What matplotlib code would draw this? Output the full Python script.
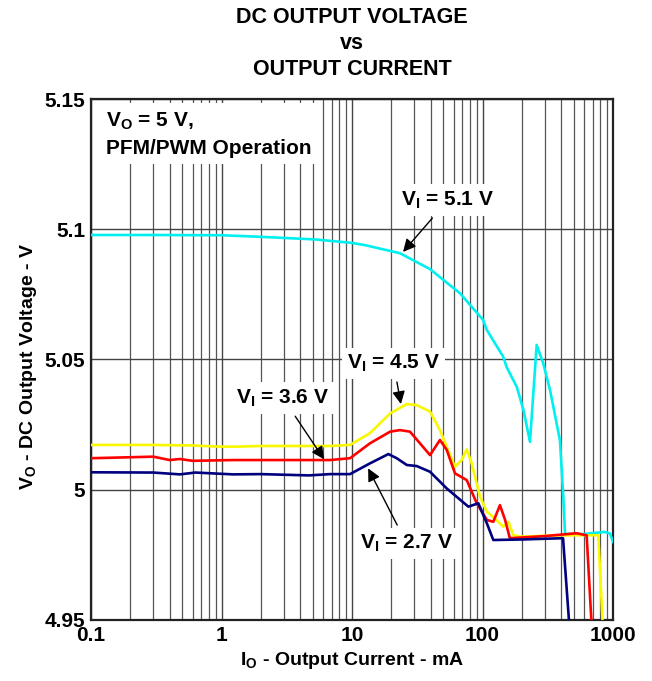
import matplotlib
matplotlib.use("Agg")
import matplotlib.pyplot as plt
from matplotlib.ticker import FixedLocator, NullFormatter

plt.rcParams['font.family'] = ['Liberation Sans', 'DejaVu Sans']
plt.rcParams['font.weight'] = 'bold'
plt.rcParams['axes.labelweight'] = 'bold'
plt.rcParams['mathtext.fontset'] = 'custom'
plt.rcParams['mathtext.rm'] = 'Liberation Sans:bold'
plt.rcParams['mathtext.it'] = 'Liberation Sans:bold'
plt.rcParams['mathtext.bf'] = 'Liberation Sans:bold'
plt.rcParams['mathtext.default'] = 'rm'

# output current (mA) / output voltage (V)
x_51 = [0.1, 0.3, 1.0, 2.0, 5.2, 9.8, 12.6, 23.3, 39.6, 67.3, 101, 108, 144, 153,
        183, 206, 231, 260, 292, 329, 392, 416, 429, 600, 860, 948, 1000]
v_51 = [5.0978, 5.0978, 5.0977, 5.0971, 5.0961, 5.0948, 5.0939, 5.0908, 5.0847,
        5.0754, 5.0652, 5.0613, 5.0511, 5.0471, 5.0395, 5.0306, 5.0184, 5.0556,
        5.0485, 5.0383, 5.0190, 4.9973, 4.9830, 4.9830, 4.9838, 4.9832, 4.9800]

x_45 = [0.1, 0.3, 0.6, 0.9, 1.2, 2.0, 4.7, 6.78, 9.66, 13.7, 19.6, 26.3, 31.3,
        39.6, 47.2, 53.2, 61.5, 69.3, 75.7, 82.6, 95.7, 108, 128, 144, 158, 172,
        194, 400, 771, 850]
v_45 = [5.0172, 5.0172, 5.0170, 5.0166, 5.0165, 5.0168, 5.0168, 5.0168, 5.0172,
        5.0217, 5.0293, 5.0329, 5.0325, 5.0300, 5.0229, 5.0165, 5.0088, 5.0114,
        5.0155, 5.0101, 4.9973, 4.9916, 4.9884, 4.9858, 4.9877, 4.9826, 4.9820,
        4.9825, 4.9825, 4.9400]

x_36 = [0.1, 0.3, 0.4, 0.48, 0.6, 1.22, 1.97, 4.7, 6.78, 9.66, 13.7, 19.6, 23.3,
        27.8, 33.2, 39.6, 47.2, 53.2, 61.5, 75.7, 90.3, 108, 121, 136, 149, 162,
        300, 525, 628, 700]
v_36 = [5.0121, 5.0127, 5.0114, 5.0118, 5.0111, 5.0114, 5.0114, 5.0114, 5.0114,
        5.0121, 5.0178, 5.0223, 5.0229, 5.0223, 5.0178, 5.0133, 5.0191, 5.0153,
        5.0063, 5.0037, 4.9948, 4.9884, 4.9877, 4.9941, 4.9884, 4.9814, 4.9822,
        4.9833, 4.9825, 4.9400]

x_27 = [0.1, 0.3, 0.48, 0.63, 1.22, 2.0, 4.7, 6.78, 9.66, 13.7, 19.0, 22.0, 26.3,
        31.3, 39.6, 53.2, 77.9, 92.9, 108, 121, 200, 414, 475]
v_27 = [5.0067, 5.0066, 5.0059, 5.0066, 5.0059, 5.0060, 5.0055, 5.0060, 5.0060,
        5.0101, 5.0137, 5.0121, 5.0095, 5.0091, 5.0069, 5.0005, 4.9935, 4.9948,
        4.9871, 4.9807, 4.9809, 4.9814, 4.9400]

x_ticks = [0.1, 1, 10, 100, 1000]
x_labels = ['0.1', '1', '10', '100', '1000']
y_ticks = [4.95, 5.0, 5.05, 5.1, 5.15]
y_labels = ['4.95', '5', '5.05', '5.1', '5.15']

fig = plt.figure(figsize=(6.52, 6.81), dpi=100)
ax = fig.add_axes([0.1396, 0.0896, 0.8006, 0.765])

ax.plot(x_51, v_51, color='#00F0F0', lw=1.9, zorder=3)
ax.plot(x_45, v_45, color='#F8F800', lw=1.9, zorder=3)
ax.plot(x_36, v_36, color='#FF0000', lw=1.9, zorder=3)
ax.plot(x_27, v_27, color='#00007F', lw=1.9, zorder=3)

ax.set_xscale('log')
ax.set_xlim(0.1, 1000)
ax.set_ylim(4.95, 5.15)
ax.xaxis.set_major_locator(FixedLocator(x_ticks))
ax.set_xticklabels(x_labels)
minors = [m * 10.0 ** e for e in range(-1, 3) for m in range(2, 10)]
ax.xaxis.set_minor_locator(FixedLocator(minors))
ax.xaxis.set_minor_formatter(NullFormatter())
ax.set_yticks(y_ticks)
ax.set_yticklabels(y_labels)
ax.tick_params(which='both', length=0, labelsize=15, pad=4)

ax.grid(True, which='major', axis='both', color='#444444', lw=1.0, zorder=1)
ax.grid(True, which='minor', axis='x', color='#555555', lw=0.9, zorder=1)
for s in ax.spines.values():
    s.set_linewidth(1.6)
    s.set_color('#222222')

ax.set_xlabel('I$_{\\mathrm{O}}$ - Output Current - mA', fontsize=14, labelpad=4)
ax.set_ylabel('V$_{\\mathrm{O}}$ - DC Output Voltage - V', fontsize=14)
ax.yaxis.set_label_coords(-0.1, 0.487)

fig.text(352 / 652, 1 - 7 / 681, 'DC OUTPUT VOLTAGE\nvs\nOUTPUT CURRENT',
         ha='center', va='top', fontsize=15.5, fontweight='bold', linespacing=1.3)

ax.text(0.029, 0.978, 'V$_{\\mathrm{O}}$ = 5 V,\nPFM/PWM Operation', transform=ax.transAxes,
        ha='left', va='top', fontsize=15, linespacing=1.45, zorder=5,
        bbox=dict(boxstyle='square,pad=0.3', fc='white', ec='none'))

box = dict(boxstyle='square,pad=0.25', fc='white', ec='none')
arrow = dict(arrowstyle='-|>', color='black', lw=1.0, mutation_scale=19, shrinkA=2, shrinkB=0)
ax.annotate('V$_{\\mathrm{I}}$ = 5.1 V', xy=(24.6, 5.0913), xytext=(54.4, 5.1112),
            ha='center', va='center', fontsize=15, bbox=box, arrowprops=arrow, zorder=5)
ax.annotate('V$_{\\mathrm{I}}$ = 4.5 V', xy=(23.7, 5.0329), xytext=(20.8, 5.0485),
            ha='center', va='center', fontsize=15, bbox=box, arrowprops=arrow, zorder=5)
ax.annotate('V$_{\\mathrm{I}}$ = 3.6 V', xy=(6.1, 5.0117), xytext=(2.96, 5.0352),
            ha='center', va='center', fontsize=15, bbox=box, arrowprops=arrow, zorder=5)
ax.annotate('V$_{\\mathrm{I}}$ = 2.7 V', xy=(13.3, 5.0082), xytext=(26.2, 4.9794),
            ha='center', va='center', fontsize=15, bbox=box, arrowprops=arrow, zorder=5)

fig.savefig('out.png', dpi=100)
